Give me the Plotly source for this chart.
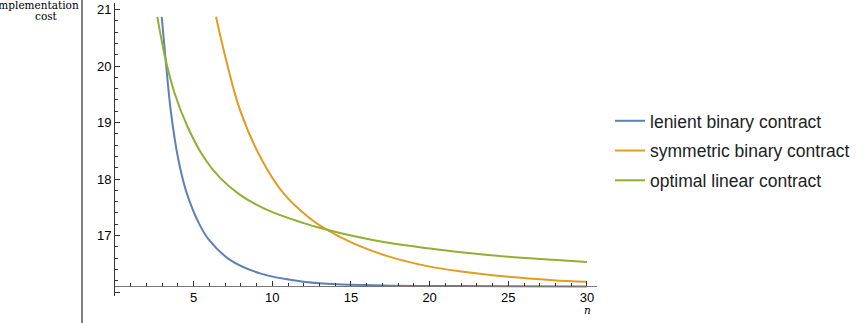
import plotly.graph_objects as go

# ---- data ----
lenient_n = [2.97, 3.22, 3.54, 4.03, 4.56, 5.40, 6.04, 7.31, 9.22, 11.76, 13.5, 17.0, 22.0, 30.0]
lenient_cost = [20.87, 20.11, 19.22, 18.34, 17.75, 17.18, 16.90, 16.57, 16.33, 16.19, 16.145, 16.115, 16.105, 16.10]

symmetric_n = [6.42, 7.06, 7.95, 9.33, 10.70, 12.40, 13.24, 15.15, 17.27, 20.0, 22.14, 25.0, 27.86, 30.0]
symmetric_cost = [20.87, 20.11, 19.22, 18.34, 17.75, 17.30, 17.14, 16.86, 16.64, 16.45, 16.36, 16.27, 16.21, 16.18]

linear_n = [2.69, 3.22, 3.81, 4.62, 5.61, 6.68, 7.95, 9.70, 12.0, 13.24, 15.15, 17.27, 20.03, 22.14, 25.0, 27.86, 30.0]
linear_cost = [20.87, 20.11, 19.50, 18.92, 18.40, 18.02, 17.72, 17.45, 17.22, 17.12, 16.99, 16.875, 16.77, 16.70, 16.625, 16.57, 16.53]

x_ticks = [5, 10, 15, 20, 25, 30]
y_ticks = [16, 17, 18, 19, 20, 21]
y_labels = ["", "17", "18", "19", "20", "21"]

series = [
    ("lenient binary contract", lenient_n, lenient_cost, "#5E81B5"),
    ("symmetric binary contract", symmetric_n, symmetric_cost, "#E19C24"),
    ("optimal linear contract", linear_n, linear_cost, "#8FB032"),
]

fig = go.Figure()
for i, (name, xs, ys, col) in enumerate(series):
    fig.add_trace(go.Scatter(
        x=xs, y=ys, mode="lines", name=name, legendgroup=f"g{i}",
        line=dict(color=col, width=2, shape="spline", smoothing=1.0),
        cliponaxis=True,
    ))

y_lo, y_hi = 15.93, 21.115
x_axis_at = 16.11
L, R, T, B = 115, 269, 3, 27
PW, PH = 866 - L - R, 323 - T - B

def px_x(p):
    return (p - L) / PW

def px_y(p):
    return 1 - (p - T) / PH

fig.update_layout(
    width=866, height=323,
    margin=dict(l=L, r=R, t=T, b=B, autoexpand=False),
    paper_bgcolor="white", plot_bgcolor="white",
    font=dict(family="Liberation Sans, Arial, sans-serif", color="black", size=13),
    showlegend=True,
    legend=dict(
        x=1.027, y=0.659, xanchor="left", yanchor="top",
        font=dict(size=17.5, family="Liberation Sans, Arial, sans-serif", color="#222"),
        tracegroupgap=4, bgcolor="rgba(0,0,0,0)",
    ),
    xaxis=dict(
        range=[0, 30.64], showgrid=False, zeroline=False,
        showline=True, linecolor="#777", linewidth=1,
        anchor="free", position=(x_axis_at - y_lo) / (y_hi - y_lo),
        tickmode="array", tickvals=x_ticks, ticktext=[str(v) for v in x_ticks],
        ticks="inside", ticklen=5, tickcolor="#333", tickwidth=1,
        tickfont=dict(size=13),
        minor=dict(tickmode="linear", tick0=0, dtick=1, ticks="inside", ticklen=3, tickcolor="#333"),
    ),
    yaxis=dict(
        range=[y_lo, y_hi], showgrid=False, zeroline=False,
        showline=True, linecolor="#333", linewidth=1,
        tickmode="array", tickvals=y_ticks, ticktext=y_labels,
        ticks="inside", ticklen=5, tickcolor="#333", tickwidth=1,
        tickfont=dict(size=13),
        minor=dict(tickmode="linear", tick0=16, dtick=0.2, ticks="inside", ticklen=3, tickcolor="#333"),
    ),
)

# separator line at left
fig.add_shape(type="line", xref="paper", yref="paper",
              x0=px_x(82), x1=px_x(82), y0=-0.2, y1=1.2,
              line=dict(color="black", width=1))

serif = "DejaVu Serif, Liberation Serif, serif"
fig.add_annotation(text="implementation", xref="paper", yref="paper",
                   x=px_x(80), y=px_y(5), xanchor="right", yanchor="middle",
                   showarrow=False, borderpad=0, font=dict(family=serif, size=10.5))
fig.add_annotation(text="cost", xref="paper", yref="paper",
                   x=px_x(46), y=px_y(16), xanchor="center", yanchor="middle",
                   showarrow=False, borderpad=0, font=dict(family=serif, size=10.5))
fig.add_annotation(text="<i>n</i>", xref="paper", yref="paper",
                   x=px_x(587), y=px_y(310), xanchor="center", yanchor="middle",
                   showarrow=False, font=dict(family=serif, size=10.5))

fig.write_html("out.html", post_script="document.body.style.margin='0';",
               config={"displayModeBar": False})
